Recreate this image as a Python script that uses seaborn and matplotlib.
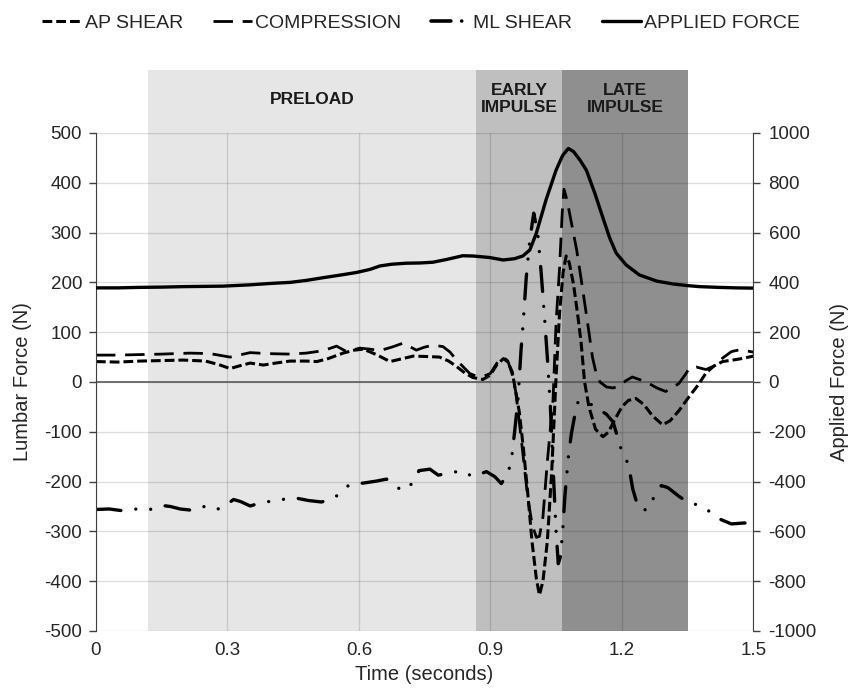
import numpy as np
import pandas as pd
import seaborn as sns
import matplotlib.pyplot as plt
from matplotlib.lines import Line2D

# %% data (time in s, force in N)
af_t = [0.0, 0.05, 0.1, 0.15, 0.2, 0.25, 0.29, 0.35, 0.4, 0.443, 0.48, 0.519, 0.56, 0.595, 0.625,
        0.648, 0.675, 0.708, 0.74, 0.769, 0.80, 0.837, 0.86, 0.898, 0.929, 0.955, 0.974, 0.99, 1.005,
        1.027, 1.05, 1.065, 1.078, 1.09, 1.105, 1.119, 1.138, 1.156, 1.172, 1.187, 1.21, 1.24, 1.28,
        1.316, 1.35, 1.377, 1.42, 1.46, 1.5]
af_n = [378, 378, 380, 381, 383, 384, 385, 390, 396, 400, 408, 419, 430, 440, 452,
        466, 473, 477, 478, 481, 492, 507, 506, 500, 490, 495, 506, 530, 598,
        731, 851, 910, 938, 925, 890, 851, 760, 664, 580, 518, 470, 430, 405,
        394, 387, 383, 380, 378, 377]

ap_t = [0.0, 0.05, 0.1, 0.15, 0.2, 0.25, 0.28, 0.306, 0.33, 0.352, 0.382, 0.41, 0.443, 0.48, 0.504,
        0.53, 0.564, 0.59, 0.61, 0.64, 0.671, 0.70, 0.724, 0.76, 0.784, 0.805, 0.823, 0.842, 0.86,
        0.883, 0.9, 0.915, 0.93, 0.94, 0.95, 0.958, 0.966, 0.975, 0.985, 0.995, 1.005, 1.012, 1.02,
        1.03, 1.04, 1.05, 1.058, 1.066, 1.073, 1.08, 1.09, 1.10, 1.107, 1.115, 1.125, 1.14, 1.157,
        1.17, 1.18, 1.2, 1.215, 1.232, 1.25, 1.27, 1.293, 1.31, 1.33, 1.354, 1.375, 1.392, 1.41,
        1.43, 1.46, 1.48, 1.5]
ap_n = [41, 40, 42, 43, 44, 42, 35, 27, 33, 38, 34, 38, 42, 42, 41,
        47, 58, 64, 66, 55, 41, 47, 52, 51, 50, 42, 31, 18, 9,
        5, 14, 35, 47, 40, 20, -20, -60, -130, -220, -320, -395, -428, -400,
        -320, -180, 10, 140, 220, 253, 240, 195, 130, 80, 0, -50, -95, -110,
        -100, -82, -50, -37, -33, -45, -68, -86, -78, -58, -29, -5, 18, 32,
        41, 45, 48, 52]

comp_t = [0.0, 0.05, 0.1, 0.15, 0.215, 0.26, 0.306, 0.352, 0.39, 0.443, 0.48, 0.519, 0.549, 0.572,
          0.602, 0.625, 0.648, 0.675, 0.701, 0.731, 0.75, 0.769, 0.792, 0.808, 0.823, 0.853, 0.87,
          0.883, 0.9, 0.915, 0.93, 0.94, 0.95, 0.958, 0.966, 0.975, 0.985, 0.995, 1.005, 1.012, 1.02,
          1.03, 1.043, 1.05, 1.058, 1.064, 1.068, 1.075, 1.086, 1.097, 1.11, 1.122, 1.133, 1.142,
          1.15, 1.165, 1.18, 1.195, 1.21, 1.224, 1.24, 1.26, 1.28, 1.30, 1.315, 1.33, 1.345, 1.354,
          1.37, 1.392, 1.41, 1.43, 1.45, 1.47, 1.5]
comp_n = [54, 54, 55, 56, 58, 57, 50, 59, 57, 56, 58, 63, 72, 61,
          68, 66, 63, 70, 78, 64, 70, 74, 71, 60, 44, 17, 11,
          11, 17, 38, 50, 42, 15, -20, -80, -150, -230, -285, -312, -310, -271,
          -160, -36, 120, 230, 340, 387, 365, 315, 265, 190, 118, 50, 15,
          0, -10, -12, -8, 3, 10, 5, -2, -12, -19, -12, -3, 15, 28,
          30, 25, 32, 48, 61, 65, 60]

ml_t = [0.0, 0.03, 0.056, 0.086, 0.12, 0.151, 0.17, 0.192, 0.224, 0.253, 0.28, 0.30, 0.314, 0.33,
        0.352, 0.378, 0.413, 0.45, 0.485, 0.515, 0.545, 0.56, 0.58, 0.61, 0.64, 0.663, 0.68, 0.697,
        0.712, 0.724, 0.737, 0.762, 0.781, 0.807, 0.834, 0.86, 0.891, 0.91, 0.925, 0.94, 0.948,
        0.955, 0.963, 0.97, 0.975, 0.982, 0.99, 0.999, 1.008, 1.015, 1.022, 1.03, 1.037, 1.043,
        1.05, 1.055, 1.06, 1.065, 1.07, 1.078, 1.085, 1.092, 1.10, 1.115, 1.14, 1.165, 1.18, 1.20,
        1.215, 1.225, 1.235, 1.245, 1.26, 1.275, 1.29, 1.305, 1.331, 1.354, 1.38, 1.40, 1.42, 1.45,
        1.48, 1.5]
ml_n = [-256, -255, -258, -255, -257, -248, -250, -255, -258, -248, -255, -245, -236, -240,
        -249, -242, -238, -232, -238, -241, -232, -220, -205, -203, -199, -195, -205, -218,
        -212, -201, -178, -175, -187, -183, -178, -190, -180, -190, -204, -184, -157,
        -103, -36, 64, 120, 211, 285, 339, 300, 230, 150, 50, -50, -170,
        -300, -365, -350, -300, -230, -150, -103, -70, -40, -38, -50, -65, -80, -140,
        -165, -215, -245, -257, -256, -228, -208, -212, -230, -243, -248, -260, -274, -285,
        -283, -287]

phases = ["PRELOAD", "EARLY\nIMPULSE", "LATE\nIMPULSE"]
phase_start = [0.119, 0.868, 1.064]
phase_end = [0.868, 1.064, 1.352]
phase_colors = ["#e6e6e6", "#bfbfbf", "#8f8f8f"]

# %% frames
lumbar = {
    "AP SHEAR": pd.DataFrame({"t": ap_t, "force": ap_n}),
    "COMPRESSION": pd.DataFrame({"t": comp_t, "force": comp_n}),
    "ML SHEAR": pd.DataFrame({"t": ml_t, "force": ml_n}),
}
applied = pd.DataFrame({"t": af_t, "force": af_n})

styles = {
    "AP SHEAR": dict(linestyle=(0, (3.2, 1.3)), linewidth=2.2),
    "COMPRESSION": dict(linestyle=(0, (7, 3.5)), linewidth=2.0),
    "ML SHEAR": dict(linestyle=(0, (7.5, 4.5, 0.01, 4.5, 0.01, 4.5)), linewidth=2.4,
                     dash_capstyle="round"),
}

# %% plot
sns.set_style("white")
plt.rcParams["font.family"] = ["Liberation Sans", "DejaVu Sans"]
plt.rcParams["axes.unicode_minus"] = False

fig = plt.figure(figsize=(8.53, 6.97), dpi=100)
ax = fig.add_axes([0.1125, 0.0947, 0.7706, 0.7145])
ax2 = ax.twinx()

for name, start, end, c in zip(phases, phase_start, phase_end, phase_colors):
    ax.axvspan(start, end, ymin=0, ymax=1.126, color=c, lw=0, zorder=0.2, clip_on=False)
    ax.text((start + end) / 2, 1.068, name, transform=ax.get_xaxis_transform(),
            ha="center", va="center", fontsize=12.5, fontweight="bold", color="#1a1a1a",
            linespacing=1.15)

ax.set_axisbelow(True)
ax.grid(True, color="black", alpha=0.13, lw=1)
ax.axhline(0, color="#5a5a5a", lw=1.2, zorder=1.5)

for label, df in lumbar.items():
    sns.lineplot(data=df, x="t", y="force", ax=ax, color="black", label=label,
                 errorbar=None, **styles[label])
sns.lineplot(data=applied, x="t", y="force", ax=ax2, color="black", label="APPLIED FORCE",
             errorbar=None, linewidth=2.4)

ax.set_xlim(0, 1.5)
ax.set_ylim(-500, 500)
ax2.set_ylim(-1000, 1000)
ax.set_xticks([0, 0.3, 0.6, 0.9, 1.2, 1.5])
ax.set_xticklabels(["0", "0.3", "0.6", "0.9", "1.2", "1.5"])
ax.set_yticks(np.arange(-500, 501, 100))
ax2.set_yticks(np.arange(-1000, 1001, 200))

ax.set_xlabel("Time (seconds)", fontsize=14.5)
ax.set_ylabel("Lumbar Force (N)", fontsize=14.5)
ax2.set_ylabel("Applied Force (N)", fontsize=14.5)
ax.yaxis.set_label_coords(-0.098, 0.5)
ax2.yaxis.set_label_coords(1.117, 0.5)

ax.tick_params(axis="x", length=0, pad=8, labelsize=13.5)
ax.tick_params(axis="y", direction="out", length=5, width=1, color="#404040", pad=5, labelsize=13.5,
               left=True)
ax2.tick_params(axis="y", direction="out", length=5, width=1, color="#404040", pad=6, labelsize=13.5,
                right=True)

for a in (ax, ax2):
    for s in ("top", "bottom", "left", "right"):
        a.spines[s].set_visible(False)
ax.spines["left"].set_visible(True)
ax.spines["left"].set_color("#404040")
ax2.spines["right"].set_visible(True)
ax2.spines["right"].set_color("#404040")

h1, l1 = ax.get_legend_handles_labels()
h2, l2 = ax2.get_legend_handles_labels()
ax.get_legend().remove()
ax2.get_legend().remove()
# shorter dash-dot for the legend key: one dash, one dot
h1[2] = Line2D([], [], color="black", linewidth=2.6, dash_capstyle="round",
               linestyle=(0, (5.5, 3.0, 0.01, 20)))
fig.legend(h1 + h2, l1 + l2, loc="center", bbox_to_anchor=(0.494, 0.967), ncol=4, frameon=False,
           fontsize=14, handlelength=2.0, handletextpad=0.2, columnspacing=1.5)

fig.savefig("out.png", dpi=100)
